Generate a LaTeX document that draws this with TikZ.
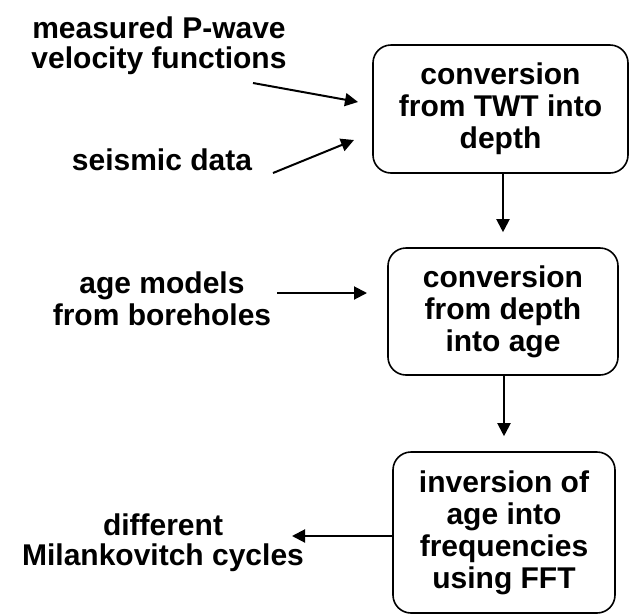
\documentclass[tikz,border=0pt]{standalone}
\usepackage{fontspec}
\setmainfont{Liberation Sans}
\usetikzlibrary{arrows.meta}

\tikzset{
  lbl/.style={font=\bfseries\fontsize{30}{32}\selectfont, align=center, inner sep=0pt},
  tightlbl/.style={lbl, font=\bfseries\fontsize{30}{30}\selectfont},
  procbox/.style={lbl, draw, line width=1.6pt, rounded corners=18pt},
  arr/.style={line width=2pt, -{Triangle[length=13pt,width=13pt]}},
}

\begin{document}
\begin{tikzpicture}[x=1pt, y=-1pt]
  \useasboundingbox (0,0) rectangle (630,614);

  % process boxes
  \node[procbox, minimum width=255pt, minimum height=128pt] (twt) at (500.5,109)
    {conversion\\from TWT into\\depth};
  \node[procbox, minimum width=230pt, minimum height=127pt] (dep) at (503,311.5)
    {conversion\\from depth\\into age};
  \node[procbox, minimum width=222pt, minimum height=161pt] (fft) at (504,532.5)
    {inversion of\\age into\\frequencies\\using FFT};

  % input and output labels (placed by the baseline of their last line)
  \node[tightlbl, anchor=base] (vel) at (159,68) {measured P-wave\\velocity functions};
  \node[lbl, anchor=base] (seis) at (162,170) {seismic data};
  \node[lbl, anchor=base] (age) at (162,325) {age models\\from boreholes};
  \node[tightlbl, anchor=base] (mil) at (163,565) {different\\Milankovitch cycles};

  % free arrow ends
  \coordinate (velA) at (253,83);
  \coordinate (velB) at (358,102);
  \coordinate (seisA) at (273,173);
  \coordinate (seisB) at (354,140);
  \coordinate (ageA) at (277,293);
  \coordinate (ageB) at (367,293);
  \coordinate (milB) at (292,536);

  % connectors
  \draw[arr] (velA) -- (velB);
  \draw[arr] (seisA) -- (seisB);
  \draw[arr] (ageA) -- (ageB);
  \draw[arr] (dep.north |- twt.south) -- ([yshift=15pt]dep.north);
  \draw[arr] (fft.north |- dep.south) -- ([yshift=15pt]fft.north);
  \draw[arr] (fft.west |- milB) -- (milB);
\end{tikzpicture}
\end{document}
